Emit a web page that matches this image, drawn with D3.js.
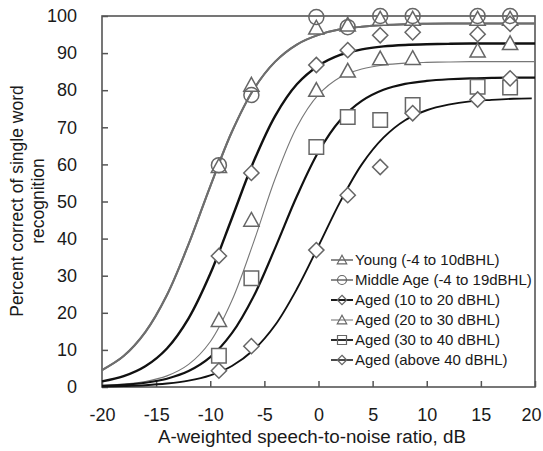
<!DOCTYPE html>
<html><head><meta charset="utf-8">
<script src="https://cdn.jsdelivr.net/npm/d3@7"></script>
<style>body{margin:0;background:#fff}svg{display:block}</style>
</head><body>
<svg id="chart" width="543" height="451"></svg>
<script>
// ---- data ----
const snr = [-9.2, -6.2, -0.2, 2.7, 5.7, 8.7, 14.7, 17.7];
const young = [59.5, 81.4, 96.8, 97.6, 99.2, 99.2, 99.2, 99.2];
const middleAge = [59.8, 78.7, 99.7, 97.0, 100, 100, 100, 100];
const aged10to20 = [35.3, 57.7, 86.8, 90.8, 94.8, 95.6, 95.1, 97.9];
const aged20to30 = [18.0, 45.0, 80.0, 85.2, 88.5, 88.6, 90.6, 92.6];
const aged30to40 = [8.4, 29.3, 64.7, 72.8, 72.0, 76.0, 80.9, 80.7];
const agedAbove40 = [4.4, 11.0, 36.9, 51.7, 59.3, 73.8, 77.5, 83.2];

// fitted curves
const fitX = [-20,-18,-16,-14,-12,-10,-8,-6,-4,-2,0,2,4,6,8,10,12,14,16,18,20];
const fitYoungMiddle = [4.58,8.36,14.8,24.8,38.5,54.1,68.8,80.2,87.7,92.3,94.9,96.4,97.1,97.55,97.8,97.9,97.95,98,98,98,98];
const fit10to20 = [1.51,2.92,5.59,10.39,18.5,30.5,45.5,60.7,73.1,81.6,86.6,89.5,91.0,91.8,92.2,92.4,92.5,92.6,92.6,92.6,92.6];
const fit20to30 = [0.4,0.8,1.5,3.0,6.1,12.2,23.3,39.0,56.2,70.1,78.8,83.5,85.7,86.8,87.3,87.5,87.6,87.7,87.7,87.7,87.7];
const fit30to40 = [0.30,0.59,1.15,2.24,4.29,8.04,14.5,24.4,37.5,51.4,63.4,71.9,77.1,80.1,81.7,82.5,82.95,83.2,83.3,83.4,83.4];
const fitXAbove40 = [-20,-18,-16,-14,-12,-10,-8,-6,-4,-2,0,2,4,6,8,10,12,14,16,18,19.7];
const fitAbove40 = [0.14,0.27,0.49,0.93,1.71,3.14,5.67,9.96,16.7,26.4,38.0,49.9,60.0,67.2,71.9,74.6,76.1,77.0,77.4,77.7,77.8];

const xTicks = [-20,-15,-10,-5,0,5,10,15,20];
const yTicks = [0,10,20,30,40,50,60,70,80,90,100];
const legendLabels = ["Young (-4 to 10dBHL)","Middle Age (-4 to 19dBHL)","Aged (10 to 20 dBHL)","Aged (20 to 30 dBHL)","Aged (30 to 40 dBHL)","Aged (above 40 dBHL)"];

// ---- styles ----
const series = [
  {vals: young, shape: "triangle", lineColor: "#6e6e6e", lineW: 2, fx: fitX, fit: fitYoungMiddle},
  {vals: middleAge, shape: "circle", lineColor: "#6e6e6e", lineW: 2, fx: fitX, fit: fitYoungMiddle},
  {vals: aged10to20, shape: "diamond", lineColor: "#111", lineW: 2.4, fx: fitX, fit: fit10to20},
  {vals: aged20to30, shape: "triangle", lineColor: "#777", lineW: 1.1, fx: fitX, fit: fit20to30},
  {vals: aged30to40, shape: "square", lineColor: "#111", lineW: 2.2, fx: fitX, fit: fit30to40},
  {vals: agedAbove40, shape: "diamond", lineColor: "#111", lineW: 1.9, fx: fitXAbove40, fit: fitAbove40}
];

const font = "'Liberation Sans', Arial, sans-serif";
const svg = d3.select("#chart");
const L = 102, R = 535, T = 16, B = 387;
const x = d3.scaleLinear().domain([-20,20]).range([L,R]);
const y = d3.scaleLinear().domain([0,100]).range([B,T]);

function shapePath(shape, s) {
  const h = s/2;
  if (shape === "triangle") return `M0,${-h*1.05}L${h*1.05},${h*0.85}L${-h*1.05},${h*0.85}Z`;
  if (shape === "square") return `M${-h},${-h}H${h}V${h}H${-h}Z`;
  if (shape === "diamond") return `M0,${-h*1.05}L${h*1.05},0L0,${h*1.05}L${-h*1.05},0Z`;
  if (shape === "circle") return `M${h},0A${h},${h} 0 1,1 ${-h},0A${h},${h} 0 1,1 ${h},0Z`;
}

// axes
const fmt = d => String(d);
const yAxis = d3.axisLeft(y).tickValues(yTicks).tickFormat(fmt).tickSize(-6).tickSizeOuter(0).tickPadding(25);
const xAxis = d3.axisBottom(x).tickValues(xTicks).tickFormat(fmt).tickSize(-6).tickSizeOuter(0).tickPadding(21);
const gy = svg.append("g").attr("transform", `translate(${L},0)`).call(yAxis);
const gx = svg.append("g").attr("transform", `translate(0,${B})`).call(xAxis);
[gx, gy].forEach(g => {
  g.select(".domain").remove();
  g.selectAll(".tick line").attr("stroke", "#555").attr("stroke-width", 1.5);
  g.selectAll(".tick text").attr("font-family", font).attr("font-size", 18).attr("fill", "#1a1a1a");
});
// keep the last x label inside the picture
gx.selectAll(".tick text").filter(d => d === 20).attr("x", -4);

// frame
svg.append("rect").attr("x", L).attr("y", T).attr("width", R-L).attr("height", B-T)
  .attr("fill", "none").attr("stroke", "#555").attr("stroke-width", 1.6);

// curves
const line = d3.line().x(d => x(d[0])).y(d => y(d[1])).curve(d3.curveCatmullRom.alpha(0.5));
series.forEach(s => {
  svg.append("path").datum(s.fx.map((v,i) => [v, s.fit[i]]))
    .attr("d", line).attr("fill", "none").attr("stroke", s.lineColor).attr("stroke-width", s.lineW);
});

// markers (circles last, hollow)
const order = [0,2,3,4,5,1];
order.forEach(k => {
  const s = series[k];
  const size = s.shape === "circle" ? 15 : 14.5;
  svg.append("g").selectAll("path").data(snr.map((v,i) => [v, s.vals[i]])).join("path")
    .attr("transform", d => `translate(${x(d[0])},${y(d[1])})`)
    .attr("d", shapePath(s.shape, size))
    .attr("fill", s.shape === "circle" ? "none" : "#fff")
    .attr("stroke", "#666").attr("stroke-width", 1.5);
});

// axis titles
svg.append("text").attr("x", 312).attr("y", 443).attr("text-anchor", "middle")
  .attr("font-family", font).attr("font-size", 18.8).attr("fill", "#1a1a1a")
  .text("A-weighted speech-to-noise ratio, dB");
const yt = svg.append("text").attr("transform", "translate(0,201) rotate(-90)").attr("text-anchor", "middle")
  .attr("font-family", font).attr("font-size", 17.5).attr("fill", "#1a1a1a");
yt.append("tspan").attr("x", 0).attr("y", 23).text("Percent correct of single word");
yt.append("tspan").attr("x", 0).attr("y", 44).text("recognition");

// legend
const lg = svg.append("g");
legendLabels.forEach((lab, i) => {
  const s = series[i];
  const cy = 260 + i*20;
  lg.append("line").attr("x1", 331).attr("x2", 353).attr("y1", cy).attr("y2", cy)
    .attr("stroke", s.lineColor).attr("stroke-width", Math.max(1.1, s.lineW*0.8));
  lg.append("path").attr("transform", `translate(342,${cy})`).attr("d", shapePath(s.shape, 9))
    .attr("fill", "none").attr("stroke", "#666").attr("stroke-width", 1.2);
  lg.append("text").attr("x", 355).attr("y", cy).attr("dy", "0.35em")
    .attr("font-family", font).attr("font-size", 15).attr("fill", "#1a1a1a").text(lab);
});
</script>
</body></html>
